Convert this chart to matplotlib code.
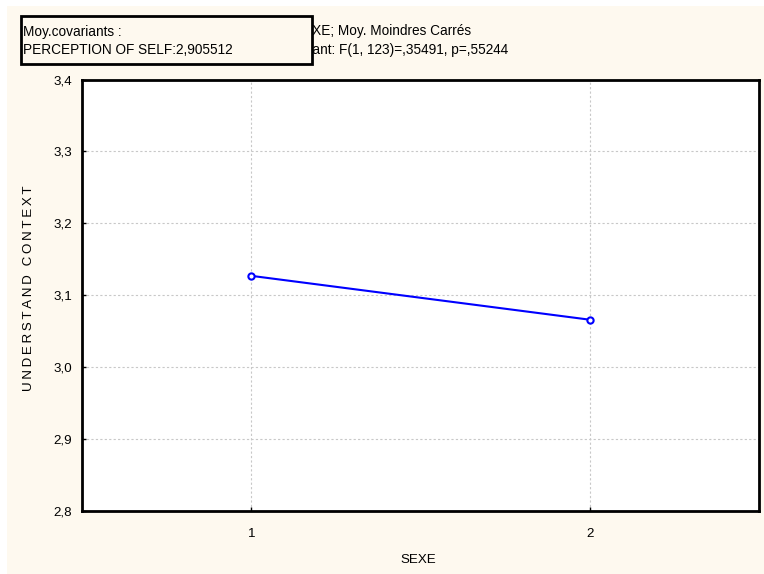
import matplotlib
matplotlib.use('Agg')
import matplotlib.pyplot as plt
from matplotlib.patches import Rectangle
from matplotlib.ticker import FuncFormatter

# Moyennes des moindres carrés par sexe
sexe = [1, 2]
understand_context = [3.127, 3.066]

y_ticks = [2.8, 2.9, 3.0, 3.1, 3.2, 3.3, 3.4]
title_lines = ['SEXE; Moy. Moindres Carrés',
               'Effet courant: F(1, 123)=,35491, p=,55244']
covariate_lines = ['Moy.covariants :', 'PERCEPTION OF SELF:2,905512']
y_label = 'UNDERSTAND CONTEXT'
x_label = 'SEXE'

plt.rcParams['font.family'] = ['Liberation Sans', 'DejaVu Sans']
fs = 9.8

W, H = 764, 574
fig = plt.figure(figsize=(W / 100, H / 100), dpi=100, facecolor='white')
cream = '#fef9ef'
fig.patches.append(Rectangle((7 / W, 0), 1 - 7 / W, 1 - 6 / H,
                             transform=fig.transFigure, facecolor=cream,
                             edgecolor='none', zorder=-10))

ax = fig.add_axes([82 / W, 1 - 511 / H, (759 - 82) / W, (511 - 79.5) / H])
ax.set_facecolor('white')
ax.plot(sexe, understand_context, color='#0000ff', lw=1.5, marker='o',
        ms=4.5, mfc='white', mec='#0000ff', mew=1.5, zorder=3)

ax.set_xlim(0.5, 2.5)
ax.set_ylim(2.8, 3.4)
ax.set_xticks(sexe)
ax.set_yticks(y_ticks)
ax.yaxis.set_major_formatter(FuncFormatter(lambda v, p: f'{v:.1f}'.replace('.', ',')))
ax.grid(True, color='#c8c8c8', ls=(0, (2, 2)), lw=0.8)
ax.tick_params(direction='in', length=3, width=1, pad=7, labelsize=9.6)
ax.tick_params(axis='x', pad=12)
for s in ax.spines.values():
    s.set_linewidth(2)
    s.set_color('black')

# étiquettes d'axes
fig.text(418 / W, 1 - 560 / H, x_label, ha='center', va='center', fontsize=9.6)
fig.text(29 / W, 1 - 288 / H, '\u2009'.join(y_label), rotation=90,
         ha='center', va='center', fontsize=9.6)

# titre (en partie caché par la boîte)
fig.text(294 / W, 1 - 31 / H, title_lines[0], ha='left', va='center', fontsize=fs)
fig.text(254 / W, 1 - 50 / H, title_lines[1], ha='left', va='center', fontsize=fs)

# boîte des covariants
box = Rectangle((21 / W, 1 - 64 / H), (312 - 21) / W, (64 - 16) / H,
                transform=fig.transFigure, facecolor=cream, edgecolor='black',
                lw=2, zorder=5)
fig.patches.append(box)
fig.text(23 / W, 1 - 32 / H, covariate_lines[0], ha='left', va='center',
         fontsize=fs, zorder=6)
fig.text(23 / W, 1 - 50 / H, covariate_lines[1], ha='left', va='center',
         fontsize=fs, zorder=6)

fig.savefig('out.png', dpi=100, facecolor=fig.get_facecolor())
